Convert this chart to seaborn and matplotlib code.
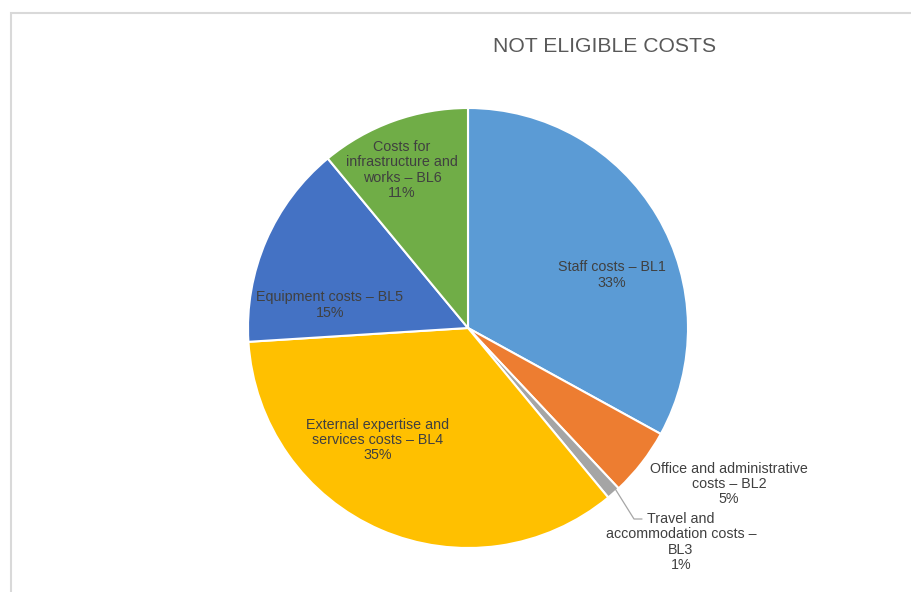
import matplotlib
matplotlib.use("Agg")
import matplotlib.pyplot as plt
import seaborn as sns
from matplotlib.patches import Rectangle

categories = ["Staff costs – BL1", "Office and administrative\ncosts – BL2",
              "Travel and\naccommodation costs –\nBL3", "External expertise and\nservices costs – BL4",
              "Equipment costs – BL5", "Costs for\ninfrastructure and\nworks – BL6"]
values = [33, 5, 1, 35, 15, 11]
colors = ["#5B9BD5", "#ED7D31", "#A5A5A5", "#FFC000", "#4472C4", "#70AD47"]
title = "NOT ELIGIBLE COSTS"

sns.set_theme(style="white")
plt.rcParams['font.family'] = ['Liberation Sans', 'DejaVu Sans']

W, H = 911, 592
fig = plt.figure(figsize=(W / 100, H / 100), dpi=100)
ax = fig.add_axes([0, 0, 1, 1])

cx, cy, R = 468, 328, 220  # pixel centre & radius
ax.pie(values, colors=colors, startangle=90, counterclock=False, radius=1,
       wedgeprops=dict(edgecolor="white", linewidth=1.5))
ax.set_aspect("auto")
ax.set_xlim(-cx / R, (W - cx) / R)
ax.set_ylim(-(H - cy) / R, cy / R)
ax.axis("off")

def px(x, y):
    return ((x - cx) / R, (cy - y) / R)

label_pos = [(612, 275), (729, 484), (681, 542), (378, 440), (330, 305), (402, 170)]
for text, v, (x, y) in zip(categories, values, label_pos):
    ax.text(*px(x, y), f"{text}\n{v}%", ha="center", va="center",
            fontsize=10.3, color="#404040", linespacing=1.12)

# leader line for travel slice
pts = [px(614, 487), px(634, 519), px(642, 519)]
ax.plot([p[0] for p in pts], [p[1] for p in pts], color="#A6A6A6", lw=0.9)

fig.text(605 / W, 1 - 47 / H, title, ha="center", va="center",
         fontsize=15.2, color="#595959")

fig.patches.append(Rectangle((11 / W, -0.05), 1.1, 1 - 13 / H + 0.05,
                             transform=fig.transFigure, fill=False,
                             edgecolor="#D9D9D9", linewidth=1.5))

fig.savefig("out.png", dpi=100)
